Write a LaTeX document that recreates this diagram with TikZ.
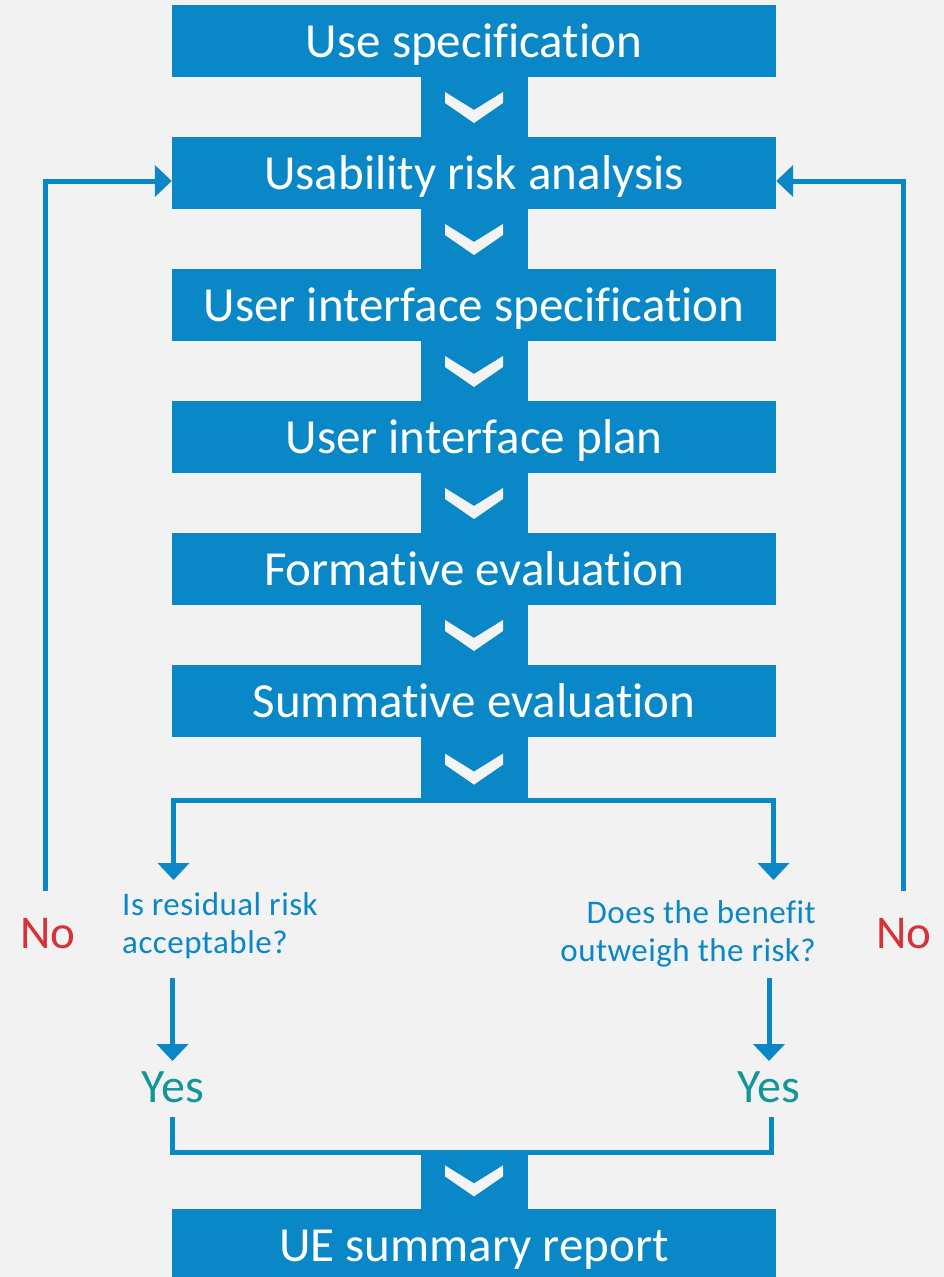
\documentclass[tikz,border=0pt]{standalone}
\usepackage{fontspec}
\setmainfont{Carlito}[Ligatures={NoCommon,NoRequired,NoContextual}]
\newfontfamily\qfont{Carlito}[Ligatures={NoCommon,NoRequired,NoContextual},LetterSpace=1.5]
\usetikzlibrary{arrows.meta,calc}
\definecolor{ueblue}{HTML}{0A87C6}
\definecolor{bggray}{HTML}{F2F2F2}
\definecolor{chevwhite}{HTML}{F4F4F4}
\definecolor{noRed}{HTML}{D63239}
\definecolor{yesTeal}{HTML}{13969A}
\tikzset{
  stepbox/.style={fill=ueblue, text=white, minimum width=604pt, minimum height=72pt,
    inner sep=0pt, text height=32pt, text depth=0pt, font=\fontsize{49}{49}\selectfont},
  stemline/.style={draw=ueblue, line width=107pt},
  flow/.style={draw=ueblue, line width=5pt},
  flowarrow/.style={flow, -{Triangle[length=17pt,width=31pt]}},
  qtext/.style={text=ueblue, inner sep=0pt, font=\qfont\fontsize{33}{38}\selectfont},
  yestext/.style={text=yesTeal, inner sep=0pt, text height=33pt, text depth=0pt, font=\fontsize{48}{48}\selectfont},
  notext/.style={text=noRed, inner sep=0pt, text height=32pt, text depth=0pt, font=\fontsize{47}{47}\selectfont},
  chev/.pic={\fill[chevwhite] (-29,-15) -- (0,3) -- (29,-15) -- (29,-4) -- (0,16) -- (-29,-4) -- cycle;}
}
\begin{document}
\begin{tikzpicture}[x=1pt,y=-1pt]
\fill[bggray] (0,0) rectangle (944,1277);
\useasboundingbox (0,0) rectangle (944,1277);

% process boxes
\node[stepbox] (b1) at (474,41)  {Use specification};
\node[stepbox] (b2) at (474,173) {Usability risk analysis};
\node[stepbox] (b3) at (474,305) {User interface specification};
\node[stepbox] (b4) at (474,437) {User interface plan};
\node[stepbox] (b5) at (474,569) {Formative evaluation};
\node[stepbox] (b6) at (474,701) {Summative evaluation};
\node[stepbox] (b7) at (474,1245) {UE summary report};

% stems with chevrons
\foreach \a/\b in {b1/b2,b2/b3,b3/b4,b4/b5,b5/b6}{
  \draw[stemline] (\a.south) -- (\b.north);
  \pic at ($(\a.south)!0.5!(\b.north)$) {chev};
}

% decision texts
\node[qtext, anchor=base west] (q1) at (122,915)
  {\begin{tabular}[t]{@{}l@{}}Is residual risk\\acceptable?\end{tabular}};
\node[qtext, anchor=base east] (q2) at (816,923)
  {\begin{tabular}[t]{@{}r@{}}Does the benefit\\outweigh the risk?\end{tabular}};
\node[yestext] (y1) at (173,1086) {Yes};
\node[yestext] (y2) at (769,1086) {Yes};
\node[notext] (nL) at (48,932) {No};
\node[notext] (nR) at (904,932) {No};

% connector end points
\coordinate (split) at (474,800);
\coordinate (q1in) at (173.5,880);
\coordinate (q2in) at (773.5,880);
\coordinate (q1out) at (172.5,978);
\coordinate (q2out) at (769,978);
\coordinate (y1in) at (172.5,1061);
\coordinate (y2in) at (769,1061);
\coordinate (y1out) at (172,1117);
\coordinate (y2out) at (771,1117);
\coordinate (merge) at (474,1152);
\coordinate (nLtop) at (45.5,891);
\coordinate (nRtop) at (903.5,891);

\draw[stemline] (b6.south) -- (split);
\pic at ($(b6.south)!0.5!(split)$) {chev};
\draw[flowarrow] (split) -| (q1in);
\draw[flowarrow] (split) -| (q2in);
\draw[flowarrow] (q1out) -- (y1in);
\draw[flowarrow] (q2out) -- (y2in);
\draw[flow] (y1out) |- (merge) -| (y2out);
\draw[stemline] (merge) -- (b7.north);
\pic at ($(merge)!0.5!(b7.north)$) {chev};

% loops back
\draw[flowarrow] (nLtop) |- ($(b2.west)+(0,8)$);
\draw[flowarrow] (nRtop) |- ($(b2.east)+(0,8)$);
\end{tikzpicture}
\end{document}
